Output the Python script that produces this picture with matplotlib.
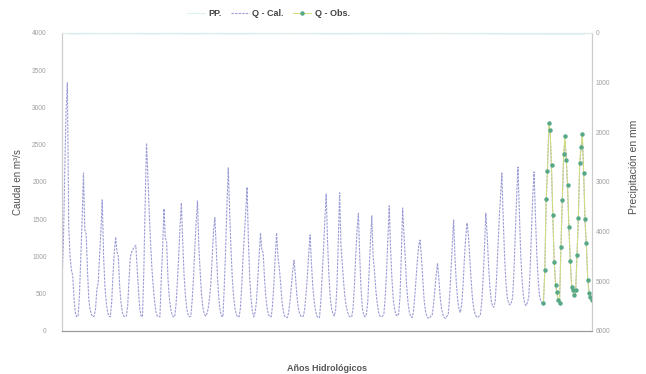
import numpy as np
import matplotlib.pyplot as plt

plt.rcParams['font.family'] = ['Liberation Sans', 'DejaVu Sans']

# Caudal calculado, un renglón por año hidrológico (12 meses), m3/s
q_cal_years = [
    [680, 1150, 2100, 2950, 3330, 1400, 1000, 820, 740, 420, 240, 190],
    [200, 480, 980, 1500, 2120, 1360, 1300, 800, 420, 280, 220, 190],
    [200, 300, 560, 650, 1000, 1350, 1760, 1000, 600, 380, 250, 200],
    [190, 380, 750, 1060, 1260, 1060, 1000, 600, 380, 250, 200, 190],
    [200, 350, 700, 1000, 1060, 1100, 1130, 1150, 850, 550, 300, 200],
    [190, 800, 1700, 2520, 2100, 1600, 1200, 850, 600, 400, 260, 200],
    [200, 190, 700, 1100, 1640, 1250, 1200, 700, 450, 300, 220, 190],
    [190, 350, 650, 1000, 1400, 1720, 1200, 750, 480, 300, 220, 190],
    [200, 400, 700, 1100, 1450, 1745, 1150, 800, 500, 320, 230, 200],
    [230, 300, 450, 640, 1000, 1350, 1520, 1100, 700, 420, 260, 200],
    [190, 600, 1100, 1700, 2190, 1600, 1100, 700, 450, 300, 220, 190],
    [190, 300, 600, 1000, 1300, 1600, 1930, 1200, 700, 420, 260, 190],
    [250, 400, 700, 1000, 1315, 1080, 1050, 700, 450, 300, 220, 190],
    [190, 350, 650, 1000, 1315, 1000, 850, 640, 400, 270, 200, 180],
    [180, 250, 400, 600, 800, 950, 750, 500, 330, 240, 200, 190],
    [200, 300, 500, 750, 1050, 1290, 900, 600, 400, 280, 200, 180],
    [180, 400, 750, 1100, 1500, 1840, 1200, 750, 450, 300, 230, 200],
    [280, 600, 1200, 1855, 1150, 900, 650, 450, 320, 250, 200, 190],
    [190, 300, 600, 1000, 1350, 1580, 1000, 550, 300, 210, 190, 230],
    [400, 800, 1200, 1545, 1000, 800, 550, 380, 260, 200, 190, 200],
    [230, 450, 800, 1250, 1680, 1100, 700, 430, 290, 220, 200, 230],
    [450, 1000, 1650, 1300, 950, 600, 380, 250, 200, 180, 250, 450],
    [700, 950, 1150, 1220, 990, 700, 420, 270, 200, 175, 170, 200],
    [210, 350, 550, 750, 910, 700, 450, 300, 220, 180, 170, 200],
    [220, 450, 800, 1150, 1490, 1000, 650, 420, 300, 250, 350, 600],
    [950, 1250, 1450, 1290, 1000, 700, 450, 300, 230, 190, 180, 200],
    [220, 400, 700, 1100, 1580, 1300, 900, 600, 420, 330, 320, 400],
    [700, 1100, 1500, 1800, 2120, 1500, 1000, 650, 450, 370, 350, 380],
    [450, 800, 1300, 1800, 2200, 1600, 1050, 700, 480, 370, 340, 380],
    [450, 800, 1300, 1800, 2135, 1550, 1050, 700, 480, 400, 380, 375],
    [800, 1700, 2200, 2700, 2650, 2150, 1500, 950, 650, 500, 420, 380],
    [1100, 1700, 2300, 2550, 2350, 1900, 1350, 950, 620, 520, 470, 520],
    [1000, 1500, 2200, 2450, 2600, 2100, 1450, 1150, 700, 520, 460, 430],
]

# Caudal observado, últimos meses del registro (m3/s)
q_obs_start = 359
q_obs = [375, 820, 1770, 2150, 2790, 2700, 2230, 1560, 925, 620, 520, 420,
         375, 1130, 1760, 2375, 2620, 2300, 1960, 1400, 940, 590, 550, 480,
         550, 1020, 1515, 2255, 2470, 2640, 2120, 1500, 1180, 685, 510, 450,
         420]

# Precipitación media mensual por año hidrológico (mm)
pp = [22, 18, 15, 17, 14, 25, 16, 19, 20, 15, 23, 21, 14, 15, 12, 14, 22,
      22, 18, 17, 19, 18, 15, 11, 16, 16, 18, 24, 25, 24, 28, 27, 27]

q_cal = np.concatenate(q_cal_years)
meses = np.arange(len(q_cal))
meses_obs = np.arange(q_obs_start, q_obs_start + len(q_obs))
meses_pp = np.arange(len(pp)) * 12 + 5.5

fig = plt.figure(figsize=(6.46, 3.74), dpi=100)
ax = fig.add_axes([0.096, 0.115, 0.82, 0.797])
ax2 = ax.twinx()

l_pp, = ax2.plot(meses_pp, pp, color='#dff3f3', lw=0.8, label='PP.')
l_cal, = ax.plot(meses, q_cal, color='#9d9dd6', lw=0.8,
                 dashes=(2.2, 1.0), label='Q - Cal.')
l_obs, = ax.plot(meses_obs, q_obs, color='#d2df78', lw=0.7, marker='o',
                 ms=2.2, mfc='#56a886', mec='#56a886', label='Q - Obs.')

ax.set_xlim(0, len(q_cal) - 1)
ax.set_ylim(0, 4000)
ax.set_yticks(range(0, 4001, 500))
ax.set_xticks([])
ax2.set_ylim(6000, 0)
ax2.set_yticks(range(0, 6001, 1000))

ax.tick_params(axis='y', length=0, pad=11, labelsize=4.8, labelcolor='#a0a0a0')
ax2.tick_params(axis='y', length=0, pad=3, labelsize=4.8, labelcolor='#a0a0a0')

for a in (ax, ax2):
    a.spines['left'].set_color('#cccccc')
    a.spines['right'].set_color('#cccccc')
    a.spines['top'].set_color('#dcecec')
    a.spines['bottom'].set_color('#9a9a9a')
    for s in a.spines.values():
        s.set_linewidth(0.8)

ax.set_ylabel('Caudal en m³/s', fontsize=7, color='#505050')
ax2.set_ylabel('Precipitación en mm', fontsize=7.5, color='#505050')
ax.yaxis.set_label_coords(-0.074, 0.5)
ax2.yaxis.set_label_coords(1.07, 0.55)
ax.set_xlabel('Años Hidrológicos', fontsize=6.5, fontweight='bold',
              color='#555555', labelpad=24)

fig.legend(handles=[l_pp, l_cal, l_obs], loc='center', ncol=3,
           bbox_to_anchor=(0.415, 0.963), frameon=False,
           handlelength=2.0, handletextpad=0.4, columnspacing=1.0,
           labelcolor='#444444', prop={'weight': 'bold', 'size': 6.5})

fig.savefig('out.png', dpi=100)
